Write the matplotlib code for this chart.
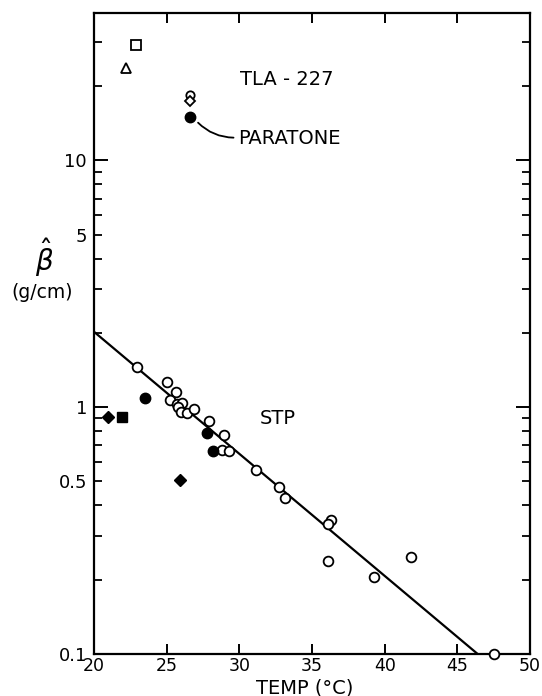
import matplotlib
matplotlib.use("Agg")
import matplotlib.pyplot as plt
from matplotlib.patches import FancyArrowPatch
from matplotlib.ticker import FixedLocator, FixedFormatter

plt.rcParams["font.family"] = ["DejaVu Sans"]

# STP samples (open circles)
stp_temp = [22.99, 25.05, 25.66, 25.20, 25.70, 26.08, 25.77, 26.00, 26.40, 26.90,
            27.88, 28.97, 28.80, 29.27, 31.14, 32.74, 33.13, 36.28, 36.10, 36.10,
            39.30, 41.83, 47.50]
stp_beta = [1.46, 1.27, 1.15, 1.07, 1.03, 1.04, 1.00, 0.96, 0.947, 0.987,
            0.879, 0.769, 0.673, 0.662, 0.557, 0.475, 0.430, 0.348, 0.337, 0.237,
            0.205, 0.247, 0.100]

# other samples (filled symbols)
circ_temp = [23.50, 27.76, 28.17]
circ_beta = [1.09, 0.789, 0.664]
diam_temp = [20.98, 25.95]
diam_beta = [0.908, 0.508]
sq_temp = [21.90]
sq_beta = [0.908]

# TLA-227 group
tla_sq_temp, tla_sq_beta = [22.92], [29.2]
tla_tri_temp, tla_tri_beta = [22.17], [23.6]
tla_circ_temp, tla_circ_beta = [26.62], [18.4]
tla_diam_temp, tla_diam_beta = [26.62], [17.4]
paratone_temp, paratone_beta = [26.62], [15.0]

# fitted STP line
fit_temp = [20.0, 46.4]
fit_beta = [2.02, 0.10]

x_ticks = [20, 25, 30, 35, 40, 45, 50]
y_major = [0.1, 1, 10]
y_minor = [0.2, 0.3, 0.4, 0.5, 0.6, 0.7, 0.8, 0.9,
           2, 3, 4, 5, 6, 7, 8, 9, 20, 30]
y_labels = {0.1: "0.1", 0.5: "0.5", 1: "1", 5: "5", 10: "10"}

fig = plt.figure(figsize=(5.42, 6.96), dpi=100)
ax = fig.add_axes([94 / 542, 1 - 654 / 696, (530 - 94) / 542, (654 - 13) / 696])
ax.set_yscale("log")
ax.set_xlim(20, 50)
ax.set_ylim(0.1, 39.5)

ink = "black"
ax.plot(fit_temp, fit_beta, color=ink, lw=1.6, solid_capstyle="butt")

open_kw = dict(ls="none", mfc="white", mec=ink, mew=1.3, clip_on=False, zorder=3)
fill_kw = dict(ls="none", mfc=ink, mec=ink, mew=1.0, clip_on=False, zorder=3)

ax.plot(stp_temp, stp_beta, marker="o", ms=7, **open_kw)
ax.plot(circ_temp, circ_beta, marker="o", ms=7.5, **fill_kw)
ax.plot(diam_temp, diam_beta, marker="D", ms=6, **fill_kw)
ax.plot(sq_temp, sq_beta, marker="s", ms=6.5, **fill_kw)

ax.plot(tla_sq_temp, tla_sq_beta, marker="s", ms=6.5, **open_kw)
ax.plot(tla_tri_temp, tla_tri_beta, marker="^", ms=6.5, **open_kw)
ax.plot(tla_circ_temp, tla_circ_beta, marker="o", ms=6, **open_kw)
ax.plot(tla_diam_temp, tla_diam_beta, marker="D", ms=5.5, **open_kw)
ax.plot(paratone_temp, paratone_beta, marker="o", ms=7.5, **fill_kw)

txt = dict(fontsize=14, color=ink)
ax.text(30.05, 21.2, "TLA - 227", ha="left", va="center", **txt)
ax.text(29.9, 12.3, "PARATONE", ha="left", va="center", **txt)
ax.text(32.66, 0.90, "STP", ha="center", va="center", **txt)

leader = FancyArrowPatch((27.16, 14.2), (29.6, 12.35), arrowstyle="-",
                         connectionstyle="arc3,rad=0.2", lw=1.3, color=ink,
                         shrinkA=0, shrinkB=0, transform=ax.transData)
ax.add_patch(leader)

ax.xaxis.set_major_locator(FixedLocator(x_ticks))
ax.set_xticklabels([str(t) for t in x_ticks])
ax.yaxis.set_major_locator(FixedLocator(y_major))
ax.yaxis.set_minor_locator(FixedLocator(y_minor))
ax.yaxis.set_major_formatter(FixedFormatter([y_labels[v] for v in y_major]))
ax.yaxis.set_minor_formatter(
    FixedFormatter([y_labels.get(v, "") for v in y_minor]))

ax.tick_params(axis="both", which="both", direction="in", top=True, right=True,
               colors=ink, labelsize=13)
ax.tick_params(axis="x", which="major", length=7.5, width=1.4, pad=2.5,
               labelsize=12.5)
ax.tick_params(axis="y", which="major", length=10, width=1.4, pad=5)
ax.tick_params(axis="y", which="minor", length=5.5, width=1.3, pad=5)
for side in ax.spines.values():
    side.set_linewidth(1.6)

fig.text(305 / 542, 1 - 687.5 / 696, "TEMP (\u00b0C)", ha="center", va="center",
         fontsize=14)
fig.text(44 / 542, 1 - 258 / 696, r"$\hat{\beta}$", ha="center", va="center",
         fontsize=20)
fig.text(42 / 542, 1 - 292 / 696, "(g/cm)", ha="center", va="center",
         fontsize=13.5)

fig.savefig("out.png", dpi=100)
